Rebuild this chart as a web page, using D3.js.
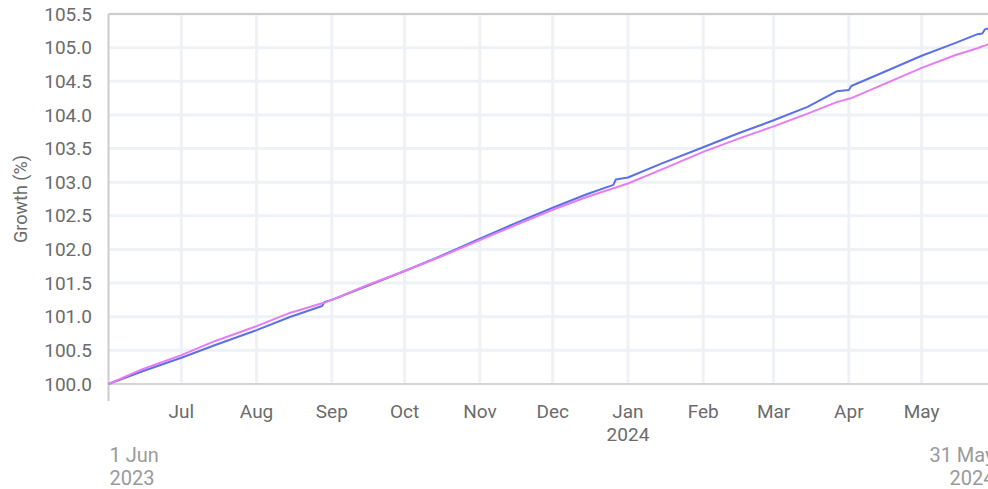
<!DOCTYPE html>
<html>
<head>
<meta charset="utf-8">
<script src="https://cdn.jsdelivr.net/npm/d3@7"></script>
<style>
  body { margin: 0; background: #fff; }
  svg { display: block; font-family: Roboto, 'Noto Sans', sans-serif; }
</style>
</head>
<body>
<svg id="growth"></svg>
<script>
const dates = [
  '2023-06-01', '2023-06-15', '2023-07-01', '2023-07-15', '2023-08-01',
  '2023-08-15', '2023-08-28', '2023-08-29', '2023-09-01', '2023-09-15',
  '2023-10-01', '2023-10-15', '2023-11-01', '2023-11-15', '2023-12-01',
  '2023-12-15', '2023-12-26', '2023-12-27', '2024-01-01', '2024-01-15',
  '2024-02-01', '2024-02-15', '2024-03-01', '2024-03-15', '2024-03-27',
  '2024-04-01', '2024-04-02', '2024-04-15', '2024-05-01', '2024-05-15',
  '2024-05-24', '2024-05-26', '2024-05-27', '2024-05-31'
]
const blueValues = [
  100.00, 100.19, 100.39, 100.58, 100.80,
  101.00, 101.16, 101.22, 101.25, 101.45,
  101.68, 101.89, 102.16, 102.38, 102.62,
  102.82, 102.96, 103.04, 103.07, 103.28,
  103.52, 103.72, 103.92, 104.12, 104.35,
  104.37, 104.43, 104.63, 104.88, 105.07,
  105.20, 105.21, 105.27, 105.31
]
const pinkValues = [
  100.00, 100.22, 100.43, 100.64, 100.86,
  101.06, 101.20, 101.21, 101.25, 101.46,
  101.68, 101.88, 102.14, 102.35, 102.59,
  102.78, 102.91, 102.92, 102.98, 103.19,
  103.45, 103.64, 103.83, 104.02, 104.19,
  104.24, 104.25, 104.45, 104.70, 104.89,
  104.99, 105.02, 105.03, 105.09
]
const yTicks = [100, 100.5, 101, 101.5, 102, 102.5, 103, 103.5, 104, 104.5, 105, 105.5]
const monthTicks = [
  '2023-07-01', '2023-08-01', '2023-09-01', '2023-10-01', '2023-11-01', '2023-12-01',
  '2024-01-01', '2024-02-01', '2024-03-01', '2024-04-01', '2024-05-01'
]
const startLabel = ['1 Jun', '2023']
const endLabel = ['31 May', '2024']
const yTitle = 'Growth (%)'

const width = 988
const height = 489
const margin = { top: 14, left: 108.5, right: -6.5, bottom: 105 }

const parseDate = d3.timeParse('%Y-%m-%d')
const monthFormat = d3.timeFormat('%b')

const svg = d3.select('#growth').attr('width', width).attr('height', height)

const xScale = d3
  .scaleTime()
  .domain([parseDate(dates[0]), parseDate(dates[dates.length - 1])])
  .range([margin.left, width - margin.right])
const yScale = d3
  .scaleLinear()
  .domain([100, 105.5])
  .range([height - margin.bottom, margin.top])

const plotBottom = height - margin.bottom

/// grid ////////////////////////////////
svg
  .append('g')
  .attr('class', 'grid-y')
  .selectAll('line')
  .data(yTicks.slice(1))
  .join('line')
  .attr('x1', margin.left)
  .attr('x2', width)
  .attr('y1', d => yScale(d))
  .attr('y2', d => yScale(d))
  .attr('stroke', '#eef1f5')
  .attr('stroke-width', 3)

svg
  .append('g')
  .attr('class', 'grid-x')
  .selectAll('line')
  .data(monthTicks.map(parseDate))
  .join('line')
  .attr('x1', d => xScale(d))
  .attr('x2', d => xScale(d))
  .attr('y1', margin.top)
  .attr('y2', plotBottom)
  .attr('stroke', '#eef1f5')
  .attr('stroke-width', 3)

// frame
svg
  .append('line')
  .attr('x1', margin.left)
  .attr('x2', width)
  .attr('y1', margin.top)
  .attr('y2', margin.top)
  .attr('stroke', '#cccccc')
  .attr('stroke-width', 2)
svg
  .append('line')
  .attr('x1', margin.left)
  .attr('x2', width)
  .attr('y1', plotBottom)
  .attr('y2', plotBottom)
  .attr('stroke', '#d4d4d4')
  .attr('stroke-width', 2)
svg
  .append('line')
  .attr('x1', margin.left)
  .attr('x2', margin.left)
  .attr('y1', margin.top)
  .attr('y2', plotBottom + 17)
  .attr('stroke', '#cccccc')
  .attr('stroke-width', 2)

/// lines ////////////////////////////////
const line = d3
  .line()
  .x(d => xScale(d.date))
  .y(d => yScale(d.value))

const series = [
  { name: 'blue', color: '#5c70e6', values: blueValues },
  { name: 'pink', color: '#e67cf4', values: pinkValues }
]

series.forEach(s => {
  svg
    .append('path')
    .attr('class', 'line-' + s.name)
    .datum(s.values.map((v, i) => ({ date: parseDate(dates[i]), value: v })))
    .attr('fill', 'none')
    .attr('stroke', s.color)
    .attr('stroke-width', 2)
    .attr('stroke-linejoin', 'round')
    .attr('d', line)
})

/// axes ////////////////////////////////
svg
  .append('g')
  .attr('class', 'y-labels')
  .selectAll('text')
  .data(yTicks)
  .join('text')
  .attr('x', 92)
  .attr('y', d => yScale(d))
  .attr('dy', '0.35em')
  .attr('text-anchor', 'end')
  .attr('font-size', 19)
  .attr('fill', '#6b6b6b')
  .text(d => d3.format('.1f')(d))

svg
  .append('g')
  .attr('class', 'x-labels')
  .selectAll('text')
  .data(monthTicks.map(parseDate))
  .join('text')
  .attr('x', d => xScale(d))
  .attr('y', 418)
  .attr('text-anchor', 'middle')
  .attr('font-size', 19)
  .attr('fill', '#6b6b6b')
  .text(d => monthFormat(d))

svg
  .append('g')
  .attr('class', 'x-years')
  .selectAll('text')
  .data(monthTicks.map(parseDate).filter(d => d.getMonth() === 0))
  .join('text')
  .attr('x', d => xScale(d))
  .attr('y', 441)
  .attr('text-anchor', 'middle')
  .attr('font-size', 19)
  .attr('fill', '#6b6b6b')
  .text(d => d.getFullYear())

// first / last date, the last one runs past the right edge as in the source
const edge = [
  { lines: startLabel, x: xScale.range()[0] + 1, anchor: 'start' },
  { lines: endLabel, x: xScale.range()[1], anchor: 'end' }
]
edge.forEach(e => {
  e.lines.forEach((t, i) => {
    svg
      .append('text')
      .attr('class', 'edge-label')
      .attr('x', e.x)
      .attr('y', 462 + i * 23)
      .attr('text-anchor', e.anchor)
      .attr('font-size', 20)
      .attr('fill', '#9a9a9a')
      .text(t)
  })
})

svg
  .append('text')
  .attr('class', 'y-title')
  .attr('transform', 'translate(27,' + (margin.top + plotBottom) / 2 + ') rotate(-90)')
  .attr('text-anchor', 'middle')
  .attr('font-size', 18)
  .attr('fill', '#6b6b6b')
  .text(yTitle)
</script>
</body>
</html>
